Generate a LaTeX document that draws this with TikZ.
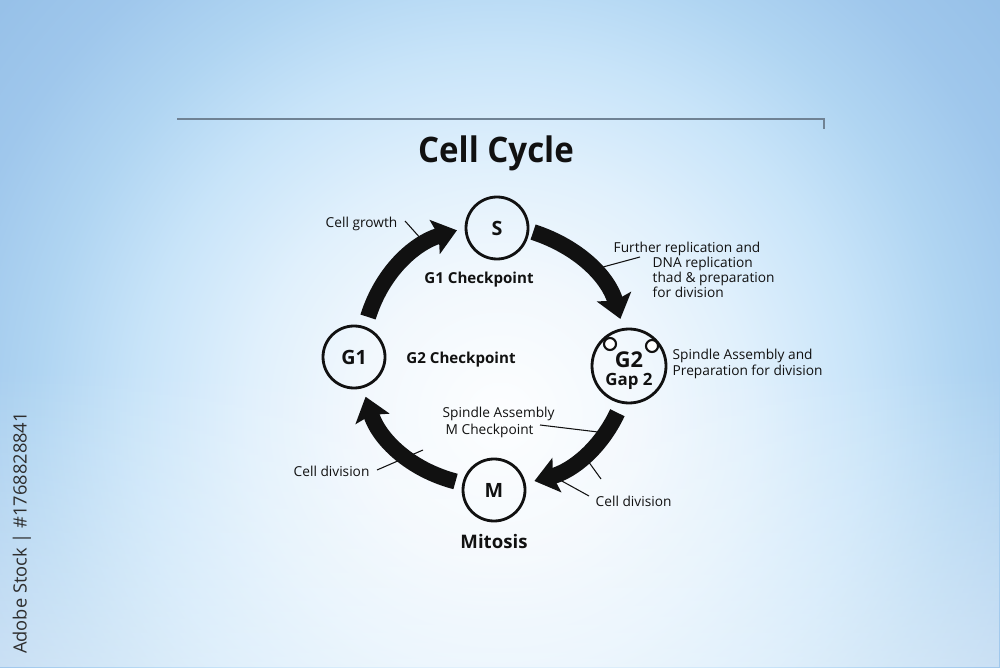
\documentclass[tikz,border=0pt]{standalone}
\usepackage{fontspec}
\setmainfont{Open Sans}
\usetikzlibrary{arrows.meta,calc,fadings}
\definecolor{bgA}{HTML}{FDFEFF}
\definecolor{bgB}{HTML}{F2F8FD}
\definecolor{bgC}{HTML}{E0F0FC}
\definecolor{bgD}{HTML}{C8E4F9}
\definecolor{bgE}{HTML}{B0D5F2}
\definecolor{bgF}{HTML}{9FC7EC}
\definecolor{bgG}{HTML}{92BDE6}
\definecolor{rulecol}{HTML}{6F8294}
\definecolor{ink}{HTML}{111111}
\pgfdeclareradialshading{bgshade}{\pgfpoint{0bp}{0bp}}{color(0bp)=(bgA); color(5bp)=(bgB); color(9bp)=(bgC); color(13bp)=(bgD); color(16.5bp)=(bgE); color(20bp)=(bgF); color(25bp)=(bgG); color(50bp)=(bgG)}
\begin{document}
\begin{tikzpicture}[
  phase/.style={circle, draw=ink, line width=0.8pt, minimum size=0.62cm, inner sep=0pt,
    font=\bfseries\fontsize{5.6}{6}\selectfont, text=ink},
  dot/.style={circle, draw=ink, fill=white, line width=0.6pt, minimum size=0.12cm, inner sep=0pt},
  cyc/.style={draw=ink, line width=0.16cm, -{Stealth[length=0.23cm,width=0.35cm,inset=0.04cm]}},
  lbl/.style={font=\fontsize{3.9}{4.4}\selectfont, text=ink, inner sep=0pt, text height=0.75em, text depth=0.22em},
  blbl/.style={font=\bfseries\fontsize{4.3}{5}\selectfont, text=ink, inner sep=0pt},
  leader/.style={draw=ink, line width=0.3pt},
  rule/.style={draw=rulecol, line width=0.45pt}
]
\useasboundingbox (0,0) rectangle (10,6.67);
\begin{scope}
  \clip (0,0) rectangle (10,6.67);
  \shade[shading=bgshade] (-2,-4.5) rectangle (12,9.5);
  \fill[white, opacity=0.45, path fading=north] (0,0) rectangle (10,3.0);
\end{scope}

% top rule
\coordinate (ruleL) at (1.77,5.48);
\coordinate (ruleR) at (8.24,5.48);
\coordinate (ruleT) at (8.24,5.38);
\draw[rule] (ruleL) -- (ruleR) -- (ruleT);

% title
\node[font=\bfseries\fontsize{10}{12}\selectfont, text=ink, inner sep=0pt] (title) at (4.96,5.14) {\scalebox{0.94}[1]{Cell Cycle}};

% phases
\node[phase] (S) at (4.97,4.39) {S};
\node[phase] (G1) at (3.54,3.10) {G1};
\node[phase, minimum size=0.74cm] (G2) at (6.29,3.01) {};
\node[font=\bfseries\fontsize{6.2}{7}\selectfont, text=ink, inner sep=0pt] (G2t) at (6.29,3.07) {G2};
\node[font=\bfseries\fontsize{4.8}{5.5}\selectfont, text=ink, inner sep=0pt] (G2g) at (6.29,2.86) {Gap 2};
\node[dot] (G2a) at (6.10,3.23) {};
\node[dot] (G2b) at (6.52,3.21) {};
\node[phase] (M) at (4.94,1.77) {M};

% cycle arrows
\draw[cyc, shorten <=0.10cm, shorten >=0.08cm] (G1.70) to[bend left=28] (S.180);
\draw[cyc, shorten <=0.04cm, shorten >=0.095cm] (S.-5) to[bend left=28] (G2.99);
\draw[cyc, shorten <=0.10cm, shorten >=0.09cm] (G2.-101) to[bend left=25] (M.12);
\draw[cyc, shorten <=0.07cm, shorten >=0.09cm] (M.168) to[bend left=29] (G1.-74);

% labels
\node[lbl, anchor=west] (cg) at (3.25,4.49) {Cell growth};
\node[blbl] (g1c) at (4.79,3.87) {G1 Checkpoint};
\node[lbl, anchor=west] (fr1) at (6.13,4.24) {Further replication and};
\node[lbl, anchor=west] (fr2) at (6.52,4.09) {DNA replication};
\node[lbl, anchor=west] (fr3) at (6.52,3.94) {thad \& preparation};
\node[lbl, anchor=west] (fr4) at (6.52,3.79) {for division};
\node[lbl, anchor=west] (sa1) at (6.72,3.17) {Spindle Assembly and};
\node[lbl, anchor=west] (sa2) at (6.72,3.01) {Preparation for division};
\node[blbl] (g2c) at (4.61,3.07) {G2 Checkpoint};
\node[lbl, anchor=west] (mc1) at (4.42,2.59) {Spindle Assembly};
\node[lbl, anchor=west] (mc2) at (4.45,2.42) {M Checkpoint};
\node[lbl, anchor=west] (cdl) at (2.93,2.00) {Cell division};
\node[lbl, anchor=west] (cdr) at (5.95,1.70) {Cell division};
\node[font=\bfseries\fontsize{5.3}{6}\selectfont, text=ink, inner sep=0pt] (mit) at (4.94,1.25) {Mitosis};

% leader lines
\coordinate (l1a) at (4.05,4.46); \coordinate (l1b) at (4.22,4.27);
\coordinate (l2a) at (6.40,4.10); \coordinate (l2b) at (6.03,4.00);
\coordinate (l3a) at (5.40,2.42); \coordinate (l3b) at (5.98,2.35);
\coordinate (l4a) at (3.77,1.97); \coordinate (l4b) at (4.23,2.17);
\coordinate (l5a) at (5.88,2.06); \coordinate (l5b) at (6.01,1.88);
\coordinate (l6a) at (5.60,1.87); \coordinate (l6b) at (5.89,1.71);
\draw[leader] (l1a) -- (l1b);
\draw[leader] (l2a) -- (l2b);
\draw[leader] (l3a) -- (l3b);
\draw[leader] (l4a) -- (l4b);
\draw[leader] (l5a) -- (l5b);
\draw[leader] (l6a) -- (l6b);

% side credit
\node[rotate=90, font=\fontsize{5.2}{6}\selectfont, text=black!82, inner sep=0pt] (wm) at (0.22,1.34) {Adobe Stock | \#1768828841};
\end{tikzpicture}
\end{document}
